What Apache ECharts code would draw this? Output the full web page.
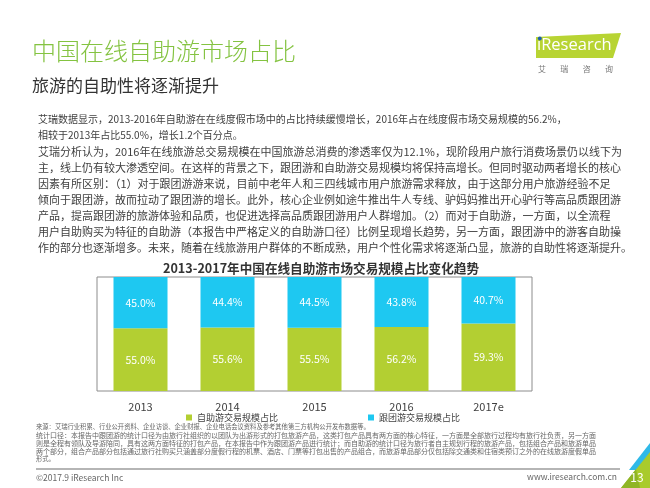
<!DOCTYPE html>
<html>
<head>
<meta charset="utf-8">
<script src="https://cdn.jsdelivr.net/npm/echarts@6/dist/echarts.min.js"></script>
<style>
html,body{margin:0;padding:0;background:#fff;}
#c{width:650px;height:488px;}
</style>
</head>
<body>
<div id="c"></div>
<script>
var years = ['2013', '2014', '2015', '2016', '2017e'];
var selfGuided = [55.0, 55.6, 55.5, 56.2, 59.3];
var groupTour = [45.0, 44.4, 44.5, 43.8, 40.7];
var seriesNames = ['自助游交易规模占比', '跟团游交易规模占比'];

var pageTitle = '中国在线自助游市场占比';
var pageSubtitle = '旅游的自助性将逐渐提升';
var chartTitle = '2013-2017年中国在线自助游市场交易规模占比变化趋势';
var bodyLines = [
  '艾瑞数据显示，2013-2016年自助游在在线度假市场中的占比持续缓慢增长，2016年占在线度假市场交易规模的56.2%，',
  '相较于2013年占比55.0%，增长1.2个百分点。',
  '艾瑞分析认为，2016年在线旅游总交易规模在中国旅游总消费的渗透率仅为12.1%，现阶段用户旅行消费场景仍以线下为',
  '主，线上仍有较大渗透空间。在这样的背景之下，跟团游和自助游交易规模均将保持高增长。但同时驱动两者增长的核心',
  '因素有所区别：（1）对于跟团游游来说，目前中老年人和三四线城市用户旅游需求释放，由于这部分用户旅游经验不足',
  '倾向于跟团游，故而拉动了跟团游的增长。此外，核心企业例如途牛推出牛人专线、驴妈妈推出开心驴行等高品质跟团游',
  '产品，提高跟团游的旅游体验和品质，也促进选择高品质跟团游用户人群增加。（2）而对于自助游，一方面，以全流程',
  '用户自助购买为特征的自助游（本报告中严格定义的自助游口径）比例呈现增长趋势，另一方面，跟团游中的游客自助操',
  '作的部分也逐渐增多。未来，随着在线旅游用户群体的不断成熟，用户个性化需求将逐渐凸显，旅游的自助性将逐渐提升。'
];
var noteLines = [
  '来源：艾瑞行业积累、行业公开资料、企业访谈、企业财报、企业电话会议资料及参考其他第三方机构公开发布数据等。',
  '统计口径：本报告中跟团游的统计口径为由旅行社组织的以团队为出游形式的打包旅游产品，这类打包产品具有两方面的核心特征，一方面是全部旅行过程均有旅行社负责，另一方面',
  '则是全程有领队及导游陪同，具有这两方面特征的打包产品，在本报告中作为跟团游产品进行统计；而自助游的统计口径为旅行者自主规划行程的旅游产品，包括组合产品和旅游单品',
  '两个部分，组合产品部分包括通过旅行社购买只涵盖部分度假行程的机票、酒店、门票等打包出售的产品组合，而旅游单品部分仅包括除交通类和住宿类预订之外的在线旅游度假单品',
  '形式。'
];
var copyrightText = '©2017.9 iResearch Inc';
var siteText = 'www.iresearch.com.cn';
var pageNo = '13';

var FONT = '"Noto Sans CJK SC", "Noto Sans", sans-serif';
var GREEN = '#b3cf32';
var BLUE = '#1ec8f1';

var graphics = [];
graphics.push({type:'text', left:32, top:39, style:{text:pageTitle, font:'300 24px ' + FONT, fill:'#84c341'}});
graphics.push({type:'text', left:32, top:77, style:{text:pageSubtitle, font:'17px ' + FONT, fill:'#333'}});

// logo
graphics.push({type:'polygon', shape:{points:[[536,37],[621,33],[613,58],[536,58]]}, style:{fill:'#b8d433'}});
graphics.push({type:'text', left:537, top:37, style:{text:'iResearch', font:'16.5px "Open Sans", sans-serif', fill:'#fff'}});
graphics.push({type:'circle', shape:{cx:539.8, cy:38.5, r:2}, style:{fill:'#1f5fa8'}});
graphics.push({type:'text', left:538, top:65, style:{text:'艾        瑞        咨        询', font:'8px ' + FONT, fill:'#777'}});

// body
bodyLines.forEach(function (t, i) {
  var ys = [119, 135, 152, 168, 184, 200, 216, 232, 248];
  graphics.push({type:'text', x:38, y:ys[i], style:{text:t, font:(i < 2 ? '10px ' : '11px ') + FONT, fill:'#404040', textVerticalAlign:'middle'}});
});

graphics.push({type:'text', x:321, y:268, style:{text:chartTitle, font:'bold 12.6px ' + FONT, fill:'#333', textAlign:'center', textVerticalAlign:'middle'}});

noteLines.forEach(function (t, i) {
  var y = 427 + i * 8;
  var justified = (i >= 1 && i <= 3);
  graphics.push({type:'text', x:36, y:y, style:{text:t, font:(justified ? '7px ' : '6.3px ') + FONT, fill:'#666', textVerticalAlign:'middle'}});
});

graphics.push({type:'line', shape:{x1:36, y1:469, x2:620, y2:469}, style:{stroke:'#b5b5b5', lineWidth:2}});
graphics.push({type:'text', x:36, y:478, style:{text:copyrightText, font:'8.5px ' + FONT, fill:'#666', textVerticalAlign:'middle'}});
graphics.push({type:'text', x:617, y:477, style:{text:siteText, font:'8.5px ' + FONT, fill:'#666', textAlign:'right', textVerticalAlign:'middle'}});

// corner decoration
graphics.push({type:'polygon', shape:{points:[[629,470],[650,443],[650,457],[639,470]]}, style:{fill:'#2fb9e8'}});
graphics.push({type:'polygon', shape:{points:[[621,488],[650,452],[650,488]]}, style:{fill:'#a9cb2c'}});
graphics.push({type:'polygon', shape:{points:[[621,488],[636,469],[640,488]]}, style:{fill:'#8fb526'}});
graphics.push({type:'text', x:637, y:477, style:{text:pageNo, font:'12px ' + FONT, fill:'#fff', textAlign:'center', textVerticalAlign:'middle'}});

var labelFmt = function (p) { return p.value.toFixed(1) + '%'; };

var option = {
  animation: false,
  backgroundColor: '#fff',
  textStyle: {fontFamily: FONT},
  grid: {left: 97, right: 118, top: 277, bottom: 97, show: true, borderColor: '#8c8c8c', borderWidth: 1, backgroundColor: 'transparent'},
  legend: [
    {data: [seriesNames[0]], left: 186, top: 413, icon: 'rect', itemWidth: 6, itemHeight: 6, itemGap: 4, textStyle: {fontSize: 9, color: '#404040', fontFamily: FONT}, padding: 0},
    {data: [seriesNames[1]], left: 368, top: 413, icon: 'rect', itemWidth: 6, itemHeight: 6, itemGap: 4, textStyle: {fontSize: 9, color: '#404040', fontFamily: FONT}, padding: 0}
  ],
  xAxis: {
    type: 'category', data: years,
    axisLine: {show: false}, axisTick: {show: false},
    axisLabel: {color: '#404040', fontSize: 11, margin: 10, fontFamily: FONT}
  },
  yAxis: {type: 'value', min: 0, max: 100, show: false, splitLine: {show: false}},
  series: [
    {name: seriesNames[0], type: 'bar', stack: 'total', data: selfGuided, barWidth: 54,
      itemStyle: {color: GREEN},
      label: {show: true, position: 'inside', color: '#fff', fontSize: 10.5, formatter: labelFmt, fontFamily: FONT}},
    {name: seriesNames[1], type: 'bar', stack: 'total', data: groupTour, barWidth: 54,
      itemStyle: {color: BLUE},
      label: {show: true, position: 'inside', color: '#fff', fontSize: 10.5, formatter: labelFmt, fontFamily: FONT}}
  ],
  graphic: graphics
};

var chart = echarts.init(document.getElementById('c'));
chart.setOption(option);
</script>
</body>
</html>
